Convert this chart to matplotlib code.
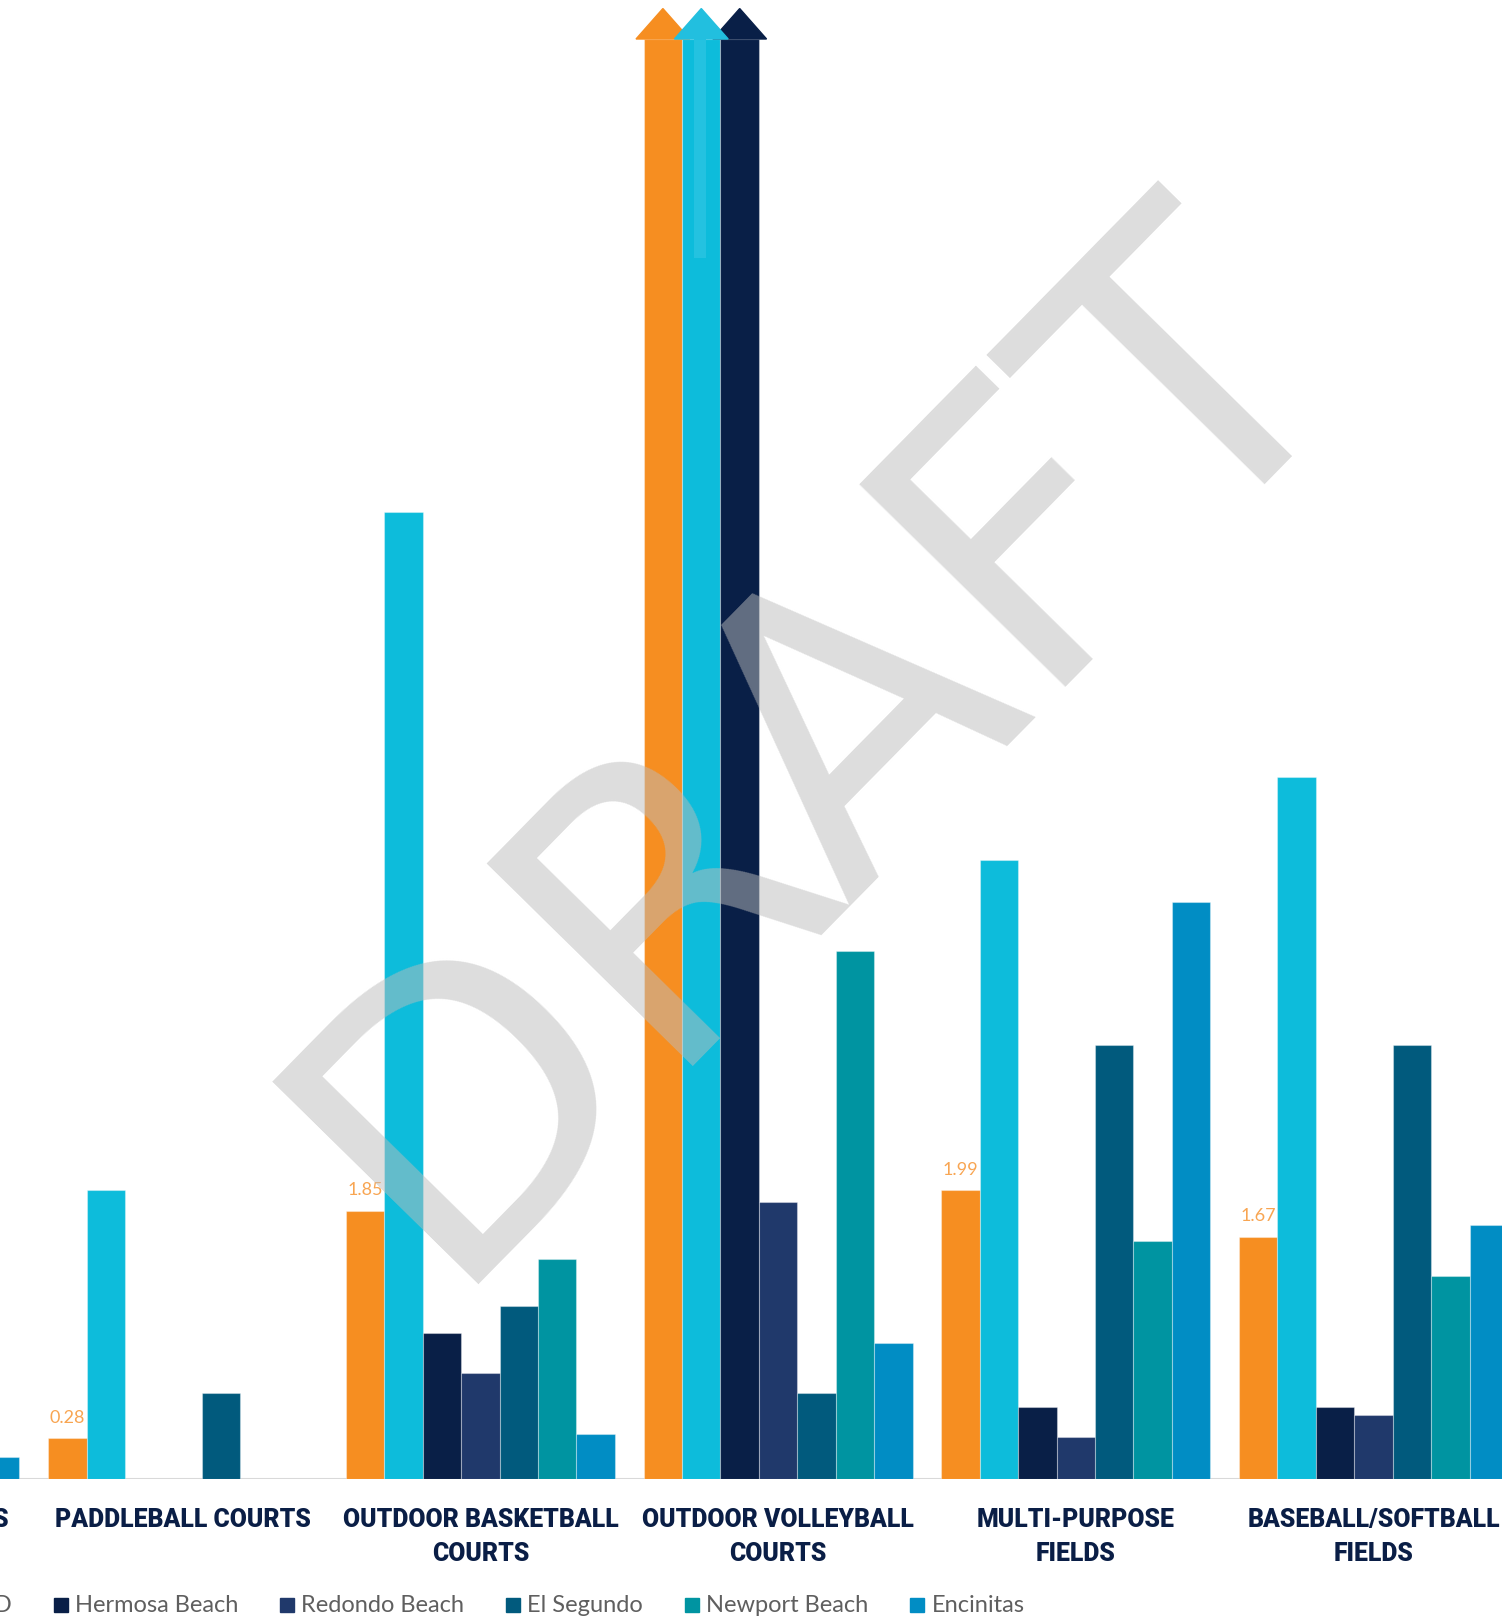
import numpy as np
import matplotlib
matplotlib.use("Agg")
import matplotlib.pyplot as plt
from matplotlib.patches import Polygon, Rectangle
from matplotlib.transforms import IdentityTransform

# Data (facilities per 1,000 residents)
# np.inf marks bars that run off the top of the chart (shown with arrows)
categories = ["PICKLEBALL COURTS", "PADDLEBALL COURTS", "OUTDOOR BASKETBALL\nCOURTS",
              "OUTDOOR VOLLEYBALL\nCOURTS", "MULTI-PURPOSE\nFIELDS", "BASEBALL/SOFTBALL\nFIELDS"]
series_names = ["Manhattan Beach", "Manhattan Beach + MBUSD", "Hermosa Beach",
                "Redondo Beach", "El Segundo", "Newport Beach", "Encinitas"]
manhattan = [np.nan, 0.28, 1.85, np.inf, 1.99, 1.67]
mbusd = [np.nan, 1.99, 6.67, np.inf, 4.27, 4.84]
hermosa = [np.nan, 0.0, 1.01, np.inf, 0.50, 0.50]
redondo = [np.nan, 0.0, 0.73, 1.91, 0.29, 0.44]
el_segundo = [np.nan, 0.59, 1.19, 0.59, 2.99, 2.99]
newport = [np.nan, 0.0, 1.52, 3.64, 1.64, 1.40]
encinitas = [0.15, 0.0, 0.31, 0.94, 3.98, 1.75]

series = [manhattan, mbusd, hermosa, redondo, el_segundo, newport, encinitas]
colors = ["#F68E21", "#0DBCDB", "#091F47", "#20396B", "#015A7D", "#0094A1", "#018DC4"]

W, H = 1502, 1616
fig = plt.figure(figsize=(W / 100, H / 100), dpi=100)
ax = fig.add_axes([0, 1 - 1479 / H, 1, (1479 - 39) / H])

ymax = 1440 / 145.0
bw = 0.129
x = np.arange(len(categories))

ax.axhline(0, color="#d9d9d9", lw=2.2, zorder=1)

for k, (vals, col) in enumerate(zip(series, colors)):
    vals = np.array(vals, dtype=float)
    xs = x + (k - 3) * bw
    ok = ~np.isnan(vals)
    h = np.minimum(vals[ok], ymax)
    ax.bar(xs[ok], h, width=bw, color=col, edgecolor=(1, 1, 1, 0.35),
           linewidth=0.8, zorder=2)
    # arrows for bars that go off the chart
    for xi, v in zip(xs[ok], vals[ok]):
        if np.isinf(v):
            hw = bw * 0.7
            head = Polygon([[xi - hw, ymax], [xi + hw, ymax], [xi, ymax + 0.21]],
                           closed=True, color=col if k != 1 else "#22BFDF",
                           clip_on=False, zorder=4 if k == 1 else 3)
            ax.add_patch(head)
            if k == 1:
                ax.add_patch(Rectangle((xi - 0.025, (1479 - 258) / 145.0), 0.041,
                                       ymax - (1479 - 258) / 145.0,
                                       color="#24C2E0", zorder=3, lw=0))

# value labels on the Manhattan Beach bars
for xi, v in zip(x - 3 * bw, manhattan):
    if np.isfinite(v):
        ax.annotate(f"{v:.2f}", (xi, v), xytext=(0, 15), textcoords="offset points",
                    ha="center", va="center", fontsize=13, color="#F8A552",
                    family=["Lato", "DejaVu Sans"])

# category labels under each group
for xi, lab in zip(x, categories):
    ax.text(xi, -29 / 1440, lab, transform=ax.get_xaxis_transform(), ha="center",
            va="top", multialignment="center", fontsize=17.8, color="#0A1E46",
            fontweight="black", family=["Roboto", "DejaVu Sans"], linespacing=1.52,
            clip_on=False)

ax.set_xlim(1 - 182.7 / 297.7, 1 + (W - 182.7) / 297.7)
ax.set_ylim(0, ymax)
ax.set_xticks([])
ax.set_yticks([])
for s in ax.spines.values():
    s.set_visible(False)

# legend at the bottom, laid out by hand (partly cut by the image edge)
renderer = fig.canvas.get_renderer()
sq = 14
leg_kw = dict(fontsize=17, color="#5F5F5F", family=["Lato", "DejaVu Sans"],
              va="baseline", transform=IdentityTransform())
px = 54
for name, col in zip(series_names[2:], colors[2:]):
    fig.add_artist(Rectangle((px, H - 1612), sq, sq, color=col, transform=IdentityTransform()))
    t = fig.text(px + sq + 7, H - 1612, name, ha="left", **leg_kw)
    px = px + sq + 7 + t.get_window_extent(renderer).width + 42
px = 54 - 42
for name, col in reversed(list(zip(series_names[:2], colors[:2]))):
    t = fig.text(px, H - 1612, name, ha="right", **leg_kw)
    tw = t.get_window_extent(renderer).width
    fig.add_artist(Rectangle((px - tw - 7 - sq, H - 1612), sq, sq, color=col,
                             transform=IdentityTransform()))
    px = px - tw - 7 - sq - 42

# DRAFT watermark
fig.text(440 / W, 1 - 1284 / H, "DRAFT", rotation=45.5, rotation_mode="anchor",
         ha="left", va="baseline", fontsize=286, color="#BCBCBC", alpha=0.5,
         family="DejaVu Sans", zorder=10)

fig.savefig("out.png", dpi=100)
